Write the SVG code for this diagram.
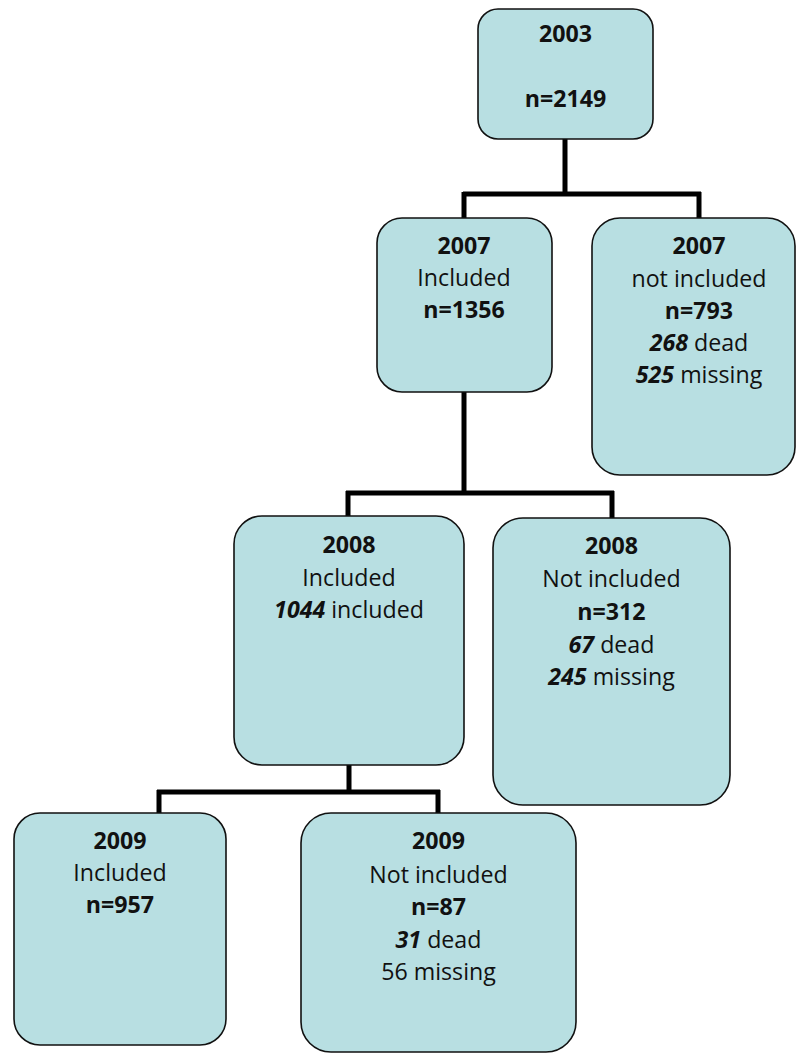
<svg xmlns="http://www.w3.org/2000/svg" width="796" height="1053" viewBox="0 0 796 1053">
<style>
.box{fill:#b8dfe2;stroke:#111;stroke-width:1.6}
.t{font-family:"Open Sans","Noto Sans",sans-serif;font-size:23.2px;fill:#111;text-anchor:middle}
.b{font-weight:bold}
.bi{font-weight:bold;font-style:italic}
.conn{fill:none;stroke:#000;stroke-width:5;stroke-linejoin:miter;stroke-linecap:butt}
</style>
<rect width="796" height="1053" fill="#fff"/>
<g id="connectors">
<path class="conn" d="M565 139 V194 M463 194 H701 M464 192 V218 M699 192 V218"/>
<path class="conn" d="M464 392 V493 M346 493 H614 M348 491 V516 M612 491 V518"/>
<path class="conn" d="M349 765 V792 M157 792 H440 M159 790 V813 M438 790 V813"/>
</g>
<g id="n2003">
<rect class="box" x="478" y="9" width="175" height="130" rx="20"/>
<text class="t b" x="565.5" y="42">2003</text>
<text class="t b" x="565.5" y="107">n=2149</text>
</g>
<g id="n2007inc">
<rect class="box" x="377" y="218" width="175" height="174" rx="25"/>
<text class="t b" x="464" y="254">2007</text>
<text class="t" x="464" y="286">Included</text>
<text class="t b" x="464" y="318">n=1356</text>
</g>
<g id="n2007not">
<rect class="box" x="592" y="218" width="203" height="257" rx="28"/>
<text class="t b" x="699" y="254">2007</text>
<text class="t" x="699" y="287">not included</text>
<text class="t b" x="699" y="319">n=793</text>
<text class="t" x="699" y="351"><tspan class="bi">268</tspan> dead</text>
<text class="t" x="699" y="383"><tspan class="bi">525</tspan> missing</text>
</g>
<g id="n2008inc">
<rect class="box" x="234" y="516" width="230" height="249" rx="28"/>
<text class="t b" x="349" y="553">2008</text>
<text class="t" x="349" y="586">Included</text>
<text class="t" x="349" y="618"><tspan class="bi">1044</tspan> included</text>
</g>
<g id="n2008not">
<rect class="box" x="493" y="518" width="237" height="287" rx="30"/>
<text class="t b" x="611.5" y="554">2008</text>
<text class="t" x="611.5" y="587">Not included</text>
<text class="t b" x="611.5" y="620">n=312</text>
<text class="t" x="611.5" y="653"><tspan class="bi">67</tspan> dead</text>
<text class="t" x="611.5" y="685"><tspan class="bi">245</tspan> missing</text>
</g>
<g id="n2009inc">
<rect class="box" x="14" y="813" width="212" height="232" rx="26"/>
<text class="t b" x="120" y="849">2009</text>
<text class="t" x="120" y="881">Included</text>
<text class="t b" x="120" y="913">n=957</text>
</g>
<g id="n2009not">
<rect class="box" x="301" y="813" width="275" height="239" rx="30"/>
<text class="t b" x="438.5" y="849">2009</text>
<text class="t" x="438.5" y="883">Not included</text>
<text class="t b" x="438.5" y="915">n=87</text>
<text class="t" x="438.5" y="948"><tspan class="bi">31</tspan> dead</text>
<text class="t" x="438.5" y="980">56 missing</text>
</g>
</svg>
